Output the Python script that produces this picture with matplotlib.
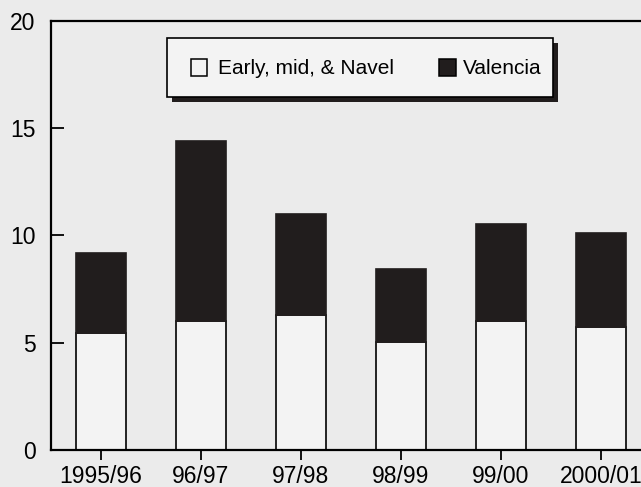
import matplotlib
matplotlib.use("Agg")
import matplotlib.pyplot as plt
from matplotlib.patches import Rectangle

plt.rcParams['font.family'] = ['Liberation Sans', 'DejaVu Sans']

seasons = ["1995/96", "96/97", "97/98", "98/99", "99/00", "2000/01"]
early_mid_navel = [5.47, 6.03, 6.29, 5.05, 6.01, 5.75]
valencia = [3.70, 8.34, 4.71, 3.37, 4.53, 4.35]
y_ticks = [0, 5, 10, 15, 20]
legend_labels = ["Early, mid, & Navel", "Valencia"]

bg = "#ebebeb"
light = "#f3f3f3"
dark = "#211d1d"

W, H = 641, 487
fig = plt.figure(figsize=(W / 100, H / 100), dpi=100, facecolor=bg)
ax = fig.add_axes([51 / W, 37 / H, 600 / W, 429.5 / H])
ax.set_facecolor(bg)

x = list(range(len(seasons)))
ax.bar(x, early_mid_navel, width=0.5, color=light, edgecolor="black",
       linewidth=1.2, zorder=2)
ax.bar(x, valencia, width=0.5, bottom=early_mid_navel, color=dark,
       edgecolor=dark, linewidth=1.2, zorder=2)

ax.set_xlim(-0.5, len(seasons) - 0.5)
ax.set_ylim(0, 20)
ax.set_yticks(y_ticks)
ax.set_xticks(x)
ax.set_xticklabels(seasons)

for s in ["left", "bottom", "top"]:
    ax.spines[s].set_linewidth(1.6)
    ax.spines[s].set_color("black")
ax.spines["right"].set_visible(False)

ax.tick_params(axis="y", direction="in", length=9, width=1.3, pad=11,
               labelsize=16.5, colors="black")
ax.tick_params(axis="x", direction="out", length=7.5, width=1.3, pad=3.5,
               labelsize=16.5, colors="black")


# legend box laid out in pixel units relative to the axes frame
def px(xp, yp):
    return ((xp - 51) / 600, (450 - yp) / 429.5)


def add_rect(x0, y0, x1, y1, **kw):
    ax0, ay1 = px(x0, y0)
    ax1, ay0 = px(x1, y1)
    r = Rectangle((ax0, ay0), ax1 - ax0, ay1 - ay0, transform=ax.transAxes,
                  clip_on=False, **kw)
    ax.add_patch(r)
    return r


add_rect(172, 43, 558, 102, facecolor=dark, edgecolor="none", zorder=5)
add_rect(167, 38, 553, 97, facecolor=light, edgecolor="black",
         linewidth=1.2, zorder=6)
add_rect(191, 59, 207, 76, facecolor=light, edgecolor="black",
         linewidth=1.1, zorder=7)
add_rect(439, 59, 456, 76, facecolor=dark, edgecolor="black",
         linewidth=1.1, zorder=7)
tx, ty = px(218, 68)
ax.text(tx, ty, legend_labels[0], transform=ax.transAxes, fontsize=15,
        va="center", ha="left", zorder=8)
tx, ty = px(463, 68)
ax.text(tx, ty, legend_labels[1], transform=ax.transAxes, fontsize=15,
        va="center", ha="left", zorder=8)

fig.savefig("out.png", dpi=100, facecolor=bg)
